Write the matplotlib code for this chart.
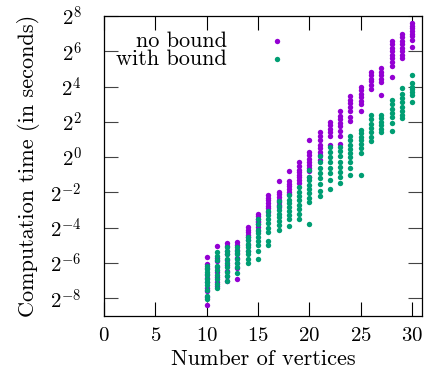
import numpy as np
import matplotlib
matplotlib.use("Agg")
import matplotlib.pyplot as plt
from matplotlib.ticker import FixedLocator, FuncFormatter

plt.rcParams['font.family'] = 'serif'
plt.rcParams['font.serif'] = ['cmr10', 'DejaVu Serif']
plt.rcParams['mathtext.fontset'] = 'cm'
plt.rcParams['axes.formatter.use_mathtext'] = True

# number of vertices per column
vertices = list(range(10, 31))

# log2 of computation time (seconds), one list per vertex count
no_bound_log2 = [
    [-5.65, -6.05, -6.3, -6.6, -6.85, -7.1, -7.4, -7.6, -7.9, -8.4],
    [-5.05, -5.7, -5.9, -6.2, -6.5, -6.8, -7.05, -7.3],
    [-4.85, -5.05, -5.3, -5.5, -5.8, -6.1, -6.45, -6.75, -7.0],
    [-4.8, -5.0, -5.25, -5.45, -5.7, -6.0, -6.3, -6.9],
    [-3.95, -4.1, -4.25, -4.4, -4.55, -4.7, -5.0, -5.3],
    [-3.2, -3.35, -3.5, -3.6, -3.7, -3.8, -3.95, -4.2],
    [-2.15, -2.3, -2.45, -2.6, -2.75, -2.9, -3.1],
    [-1.35, -1.95, -2.1, -2.25, -2.4, -2.55, -2.7, -2.85],
    [-0.8, -1.35, -1.5, -1.65, -1.8, -1.95, -2.1],
    [-0.3, -0.5, -0.7, -0.85, -1.0, -1.15, -1.3, -1.45],
    [1.0, 0.3, 0.1, -0.1, -0.25, -0.45, -0.6, -0.8, -1.1],
    [1.45, 1.2, 0.95, 0.7, 0.5, 0.3, 0.1, -0.15],
    [2.0, 1.8, 1.6, 1.4, 1.2, 0.7],
    [2.6, 2.35, 2.15, 1.95, 1.75, 1.5, 1.2, 0.75],
    [3.45, 3.25, 3.05, 2.85, 2.6, 2.3, 2.05],
    [4.0, 3.8, 3.6, 3.4, 3.2, 3.0, 2.6],
    [4.85, 4.65, 4.45, 4.3, 4.1, 3.85],
    [5.05, 4.85, 4.65, 4.45, 4.25, 3.55],
    [6.6, 6.4, 6.2, 6.0, 5.8, 5.6, 5.4, 5.15, 4.55],
    [7.0, 6.8, 6.6, 6.4, 6.2, 6.0, 5.8, 5.6],
    [7.6, 7.45, 7.3, 7.15, 7.0, 6.85, 6.65, 6.25],
]
with_bound_log2 = [
    [-6.15, -6.35, -6.5, -6.7, -6.9, -7.05, -7.25, -7.5, -7.85, -8.05],
    [-5.4, -5.6, -5.85, -6.15, -6.4, -6.7, -6.9, -7.2, -7.4],
    [-5.1, -5.3, -5.5, -5.75, -6.0, -6.25, -6.5, -6.75, -7.0],
    [-5.1, -5.3, -5.5, -5.75, -6.0, -6.25, -6.55],
    [-4.5, -4.7, -4.9, -5.1, -5.3, -5.5, -5.75, -6.0],
    [-3.5, -3.8, -4.1, -4.3, -4.5, -4.75, -5.0, -5.3, -5.75],
    [-3.05, -3.3, -3.5, -3.75, -4.0, -4.25, -4.75, -5.0],
    [-2.5, -2.75, -3.0, -3.2, -3.4, -3.6, -3.85, -4.1],
    [-2.15, -2.4, -2.6, -2.85, -3.05, -3.3, -3.5, -3.9],
    [-1.7, -1.95, -2.2, -2.45, -2.7, -2.95, -3.2, -3.5],
    [-0.75, -1.1, -1.3, -1.55, -1.8, -2.05, -2.3, -2.55, -3.8],
    [0.05, -0.3, -0.6, -0.9, -1.2, -1.5, -1.9, -2.2],
    [0.6, 0.3, 0.0, -0.3, -0.6, -0.9, -1.3, -1.8],
    [0.6, 0.35, 0.05, -0.25, -0.55, -0.85, -1.1, -1.45],
    [1.2, 0.95, 0.7, 0.45, 0.25, 0.0, -0.3, -0.6, -1.0],
    [1.55, 1.35, 1.15, 0.95, 0.75, 0.5, 0.25, -1.0],
    [2.4, 2.15, 1.9, 1.65, 1.4, 1.15, 0.9],
    [2.4, 2.2, 2.0, 1.8, 1.6, 1.45],
    [3.25, 3.0, 2.75, 2.5, 2.25, 1.95, 1.5],
    [3.9, 3.6, 3.35, 3.1, 2.85, 2.6, 2.4, 2.2],
    [4.65, 4.2, 4.0, 3.85, 3.7, 3.5, 3.1],
]

labels = ['no bound', 'with bound']
colors = ['#9400d3', '#009e73']
y_exponents = list(range(-8, 9, 2))
x_ticks = [0, 5, 10, 15, 20, 25, 30]
fs = 16


def flatten(series):
    xs, ys = [], []
    for n, vals in zip(vertices, series):
        xs += [n] * len(vals)
        ys += [2.0 ** v for v in vals]
    return xs, ys


fig = plt.figure(figsize=(4.25, 3.73), dpi=100)
ax = fig.add_axes([0.2447, 0.1528, 0.7490, 0.8043])

for series, col in zip([no_bound_log2, with_bound_log2], colors):
    xs, ys = flatten(series)
    ax.scatter(xs, ys, s=15, color=col, linewidths=0, zorder=3)

ax.set_yscale('log', base=2)
ax.set_xlim(0, 31)
ax.set_ylim(2.0 ** -9, 2.0 ** 8)
ax.yaxis.set_major_locator(FixedLocator([2.0 ** e for e in y_exponents]))
ax.yaxis.set_minor_locator(FixedLocator([]))
ax.yaxis.set_major_formatter(FuncFormatter(lambda v, p: r'$2^{%d}$' % round(np.log2(v))))
ax.set_xticks(x_ticks)

ax.tick_params(direction='in', length=10, width=0.8, top=True, right=True, labelsize=15)
ax.tick_params(axis='y', pad=16, colors='#444444', labelcolor='black')
ax.tick_params(axis='x', pad=8)
for s in ax.spines.values():
    s.set_linewidth(0.9)

ax.set_xlabel('Number of vertices', fontsize=fs, labelpad=3)
ax.set_ylabel('Computation time (in seconds)', fontsize=fs, labelpad=7)

# gnuplot-style key: right-aligned text, marker to the right
for i, (lab, col) in enumerate(zip(labels, colors)):
    yk = 0.917 - i * 0.061
    ax.text(0.386, yk, lab, transform=ax.transAxes, ha='right', va='center', fontsize=fs)
    ax.scatter([0.544], [yk], s=15, color=col, linewidths=0, transform=ax.transAxes, clip_on=False)

fig.savefig('out.png', dpi=100)
